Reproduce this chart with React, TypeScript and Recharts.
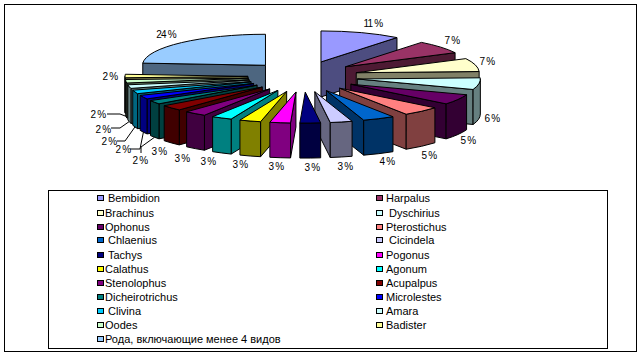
import React from 'react';
import { PieChart, Pie } from 'recharts';

const names = [
  'Bembidion', 'Harpalus', 'Brachinus', 'Dyschirius', 'Ophonus', 'Pterostichus', 'Chlaenius',
  'Cicindela', 'Tachys', 'Pogonus', 'Calathus', 'Agonum', 'Stenolophus', 'Acupalpus',
  'Dicheirotrichus', 'Microlestes', 'Clivina', 'Amara', 'Oodes', 'Badister',
  'Рода, включающие менее 4 видов',
];
const values = [
  10.6, 6.9, 6.9, 6.1, 5.4, 5.0, 4.2,
  2.9, 2.7, 2.7, 2.8, 2.7, 2.9, 2.9,
  2.0, 2.0, 1.9, 1.9, 1.8, 1.8,
  23.9,
];
const colors = [
  '#9999FF', '#993366', '#FFFFCC', '#CCFFFF', '#660066', '#FF8080', '#0066CC',
  '#CCCCFF', '#000080', '#FF00FF', '#FFFF00', '#00FFFF', '#800080', '#800000',
  '#008080', '#0000FF', '#00CCFF', '#CCFFFF', '#CCFFCC', '#FFFF99',
  '#99CCFF',
];

const slices = names.map((name, i) => ({ name, value: values[i], fill: colors[i] }));

// excel-style tilted pie
const CX = 303;
const CY = 76.6;
const RADIUS = 123;
const SQUASH = 31 / 123;
const BLOW_X = 55;
const BLOW_Y = 15.5;
const DEPTH = 35;

// hand placed data labels, like the moved ones in the original
const labelSpots: Record<string, [number, number]> = {
  Bembidion: [373, 23], Harpalus: [452, 40], Brachinus: [487, 61], Dyschirius: [492, 118],
  Ophonus: [468, 140], Pterostichus: [429, 155], Chlaenius: [387, 161], Cicindela: [345, 166],
  Tachys: [312, 167], Pogonus: [276, 166], Calathus: [240, 164], Agonum: [208, 161],
  Stenolophus: [182, 158], Acupalpus: [159, 151], Dicheirotrichus: [140, 160],
  Microlestes: [123, 149], Clivina: [109, 141], Amara: [103, 129], Oodes: [98, 114],
  Badister: [110, 76], 'Рода, включающие менее 4 видов': [166, 34],
};
const leaderElbows: Record<string, number[][]> = {
  Dicheirotrichus: [[141, 153], [141, 147]],
  Microlestes: [[130, 149], [140, 149]],
  Clivina: [[117, 141], [125, 141]],
  Amara: [[111, 128], [120, 128]],
  Oodes: [[107, 114], [120, 114]],
};

const legendRows = [198, 213, 227, 240, 255, 269, 283, 297, 311, 325, 339];
const legendIndented = ['Bembidion', 'Chlaenius', 'Tachys', 'Clivina', 'Dyschirius', 'Cicindela'];

const rad = (deg: number) => (deg * Math.PI) / 180;
const tipOf = (mid: number) => [CX + BLOW_X * Math.sin(rad(mid)), CY - BLOW_Y * Math.cos(rad(mid))];
const rimOf = (tip: number[], t: number, r: number) => [
  tip[0] + r * Math.sin(rad(t)),
  tip[1] - r * SQUASH * Math.cos(rad(t)),
];

const halve = (hex: string) => {
  const n = parseInt(hex.slice(1), 16);
  const part = (v: number) => Math.round(v / 2).toString(16).padStart(2, '0');
  return `#${part((n >> 16) & 255)}${part((n >> 8) & 255)}${part(n & 255)}`;
};

// clockwise degrees from 12 o'clock, whichever way the Pie is sweeping
const clockRange = (startAngle: number, endAngle: number) => {
  let from = 90 - Math.max(startAngle, endAngle);
  if (from < 0) from += 360;
  return [from, from + Math.abs(endAngle - startAngle)];
};

const Wedge = (props: any, rightSide: boolean) => {
  const { startAngle, endAngle, outerRadius, fill } = props;
  const [a, b] = clockRange(startAngle, endAngle);
  const mid = (a + b) / 2;
  if (mid < 180 !== rightSide) return <g />;

  const r = outerRadius;
  const ry = r * SQUASH;
  const tip = tipOf(mid);
  const pa = rimOf(tip, a, r);
  const pb = rimOf(tip, b, r);
  const side = halve(fill);
  const line = { stroke: '#000', strokeWidth: 1, strokeLinejoin: 'round' as const };

  const radial = (p: number[]) =>
    `M${tip[0]},${tip[1]} L${p[0]},${p[1]} L${p[0]},${p[1] + DEPTH} L${tip[0]},${tip[1] + DEPTH} Z`;

  const fromT = Math.max(a, 90);
  const toT = Math.min(b, 270);
  let rim = null;
  if (fromT < toT) {
    const p1 = rimOf(tip, fromT, r);
    const p2 = rimOf(tip, toT, r);
    rim = `M${p1[0]},${p1[1]} A${r},${ry} 0 0 1 ${p2[0]},${p2[1]} L${p2[0]},${p2[1] + DEPTH} A${r},${ry} 0 0 0 ${p1[0]},${p1[1] + DEPTH} Z`;
  }
  const large = b - a > 180 ? 1 : 0;

  return (
    <g>
      {Math.sin(rad(b)) > 0 && <path d={radial(pb)} fill={side} {...line} />}
      {Math.sin(rad(a)) < 0 && <path d={radial(pa)} fill={side} {...line} />}
      {rim && <path d={rim} fill={side} {...line} />}
      <path
        d={`M${tip[0]},${tip[1]} L${pa[0]},${pa[1]} A${r},${ry} 0 ${large} 1 ${pb[0]},${pb[1]} Z`}
        fill={fill}
        {...line}
      />
    </g>
  );
};

const SliceLabel = (props: any) => {
  const { name, value, startAngle, endAngle, outerRadius } = props;
  const spot = labelSpots[name];
  const elbows = leaderElbows[name];
  const [a, b] = clockRange(startAngle, endAngle);
  const mid = (a + b) / 2;
  const rim = rimOf(tipOf(mid), mid, outerRadius);
  return (
    <g>
      {elbows && (
        <polyline
          points={[...elbows, [rim[0], rim[1] + DEPTH]].map((p) => p.join(',')).join(' ')}
          fill="none"
          stroke="#000"
          strokeWidth={1}
        />
      )}
      <text
        x={spot[0]}
        y={spot[1]}
        textAnchor="middle"
        dominantBaseline="central"
        fontFamily="'Liberation Sans', Arial, sans-serif"
        fontSize={10}
        letterSpacing={-0.8}
        fill="#000"
      >
        {`${Math.round(value)} %`}
      </text>
    </g>
  );
};

const LegendBox = () => (
  <div
    style={{
      position: 'absolute', left: 48, top: 190, width: 558, height: 157,
      border: '1px solid #000', boxSizing: 'content-box',
    }}
  />
);

const LegendEntries = () => (
  <>
    {slices.map((s, i) => {
      const col = i % 2;
      const rowY = legendRows[Math.floor(i / 2)];
      const left = col === 0 ? 97 : 376;
      const gap = (col === 0 ? 1 : 3) + (legendIndented.includes(s.name) ? 3 : 0);
      return (
        <div key={s.name} style={{ position: 'absolute', left, top: rowY - 8, height: 16, display: 'flex', alignItems: 'center', whiteSpace: 'nowrap' }}>
          <span style={{ width: 5, height: 4, background: s.fill, border: '1px solid #000', display: 'inline-block' }} />
          <span
            style={{
              marginLeft: gap,
              fontFamily: "'Liberation Sans', Arial, sans-serif",
              fontSize: 11,
              color: '#000',
            }}
          >
            {s.name}
          </span>
        </div>
      );
    })}
  </>
);

export default function App() {
  return (
    <div style={{ position: 'absolute', left: 0, top: 0, width: 642, height: 356, background: '#fff', overflow: 'hidden' }}>
      <div style={{ position: 'absolute', left: 4, top: 4, width: 631, height: 346, border: '1px solid #000', boxSizing: 'content-box' }} />
      <PieChart width={642} height={356} margin={{ top: 0, right: 0, bottom: 0, left: 0 }} style={{ position: 'absolute', left: 0, top: 0 }}>
        {/* right half front to back order, then left half: sectors paint in data order */}
        <Pie
          data={slices}
          dataKey="value"
          nameKey="name"
          cx={CX}
          cy={CY}
          innerRadius={0}
          outerRadius={RADIUS}
          startAngle={90}
          endAngle={-270}
          stroke="none"
          shape={(p: any) => Wedge(p, true)}
          isAnimationActive={false}
        />
        <Pie
          data={[...slices].reverse()}
          dataKey="value"
          nameKey="name"
          cx={CX}
          cy={CY}
          innerRadius={0}
          outerRadius={RADIUS}
          startAngle={90}
          endAngle={450}
          stroke="none"
          shape={(p: any) => Wedge(p, false)}
          label={SliceLabel}
          labelLine={false}
          isAnimationActive={false}
        />
      </PieChart>
      <LegendBox />
      <LegendEntries />
    </div>
  );
}
